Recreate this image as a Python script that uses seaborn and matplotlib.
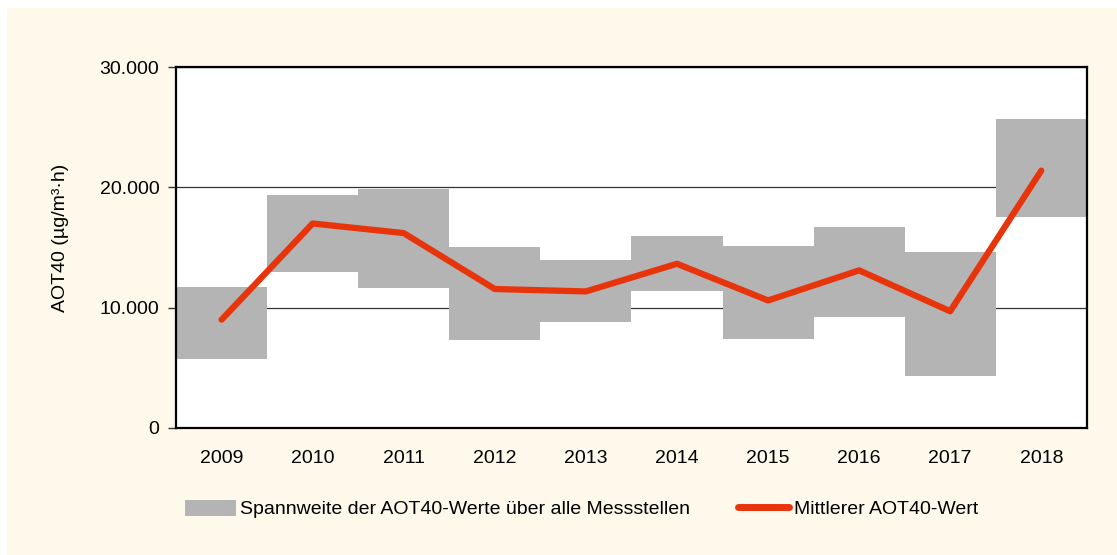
import matplotlib
matplotlib.use("Agg")
import matplotlib.pyplot as plt
import matplotlib.ticker as mticker
from matplotlib.patches import Rectangle, Patch
from matplotlib.lines import Line2D
import seaborn as sns
import pandas as pd

# AOT40 Spannweite und Mittelwert je Jahr
years = ["2009", "2010", "2011", "2012", "2013", "2014", "2015", "2016", "2017", "2018"]
aot_min = [5700, 12950, 11650, 7300, 8800, 11400, 7400, 9250, 4350, 17500]
aot_max = [11750, 19400, 19850, 15050, 13950, 15980, 15100, 16700, 14600, 25650]
aot_mean = [9000, 17000, 16200, 11550, 11350, 13650, 10600, 13100, 9700, 21400]

df = pd.DataFrame({"Jahr": years, "min": aot_min, "max": aot_max, "mittel": aot_mean})
df["spanne"] = df["max"] - df["min"]

sns.set_style("white")
plt.rcParams["font.family"] = ["Liberation Sans", "DejaVu Sans"]

cream = "#FEF9EA"
gray = "#B4B4B4"
red = "#E8340A"
fs = 14

fig = plt.figure(figsize=(11.17, 5.55), dpi=100)
fig.patch.set_facecolor("white")
fig.patches.append(Rectangle((7 / 1117, 0), 1, 1 - 8 / 555, transform=fig.transFigure,
                             facecolor=cream, edgecolor="none", zorder=-10))

ax = fig.add_axes([0.1576, 0.229, 0.8154, 0.650])
ax.set_facecolor("white")

x = range(len(years))
ax.bar(x, df["spanne"], bottom=df["min"], width=1.0, color=gray, edgecolor="none", zorder=2)
sns.lineplot(x=list(x), y=df["mittel"], ax=ax, color=red, linewidth=4.5,
             solid_capstyle="round", zorder=3)

ax.set_xlim(-0.5, len(years) - 0.5)
ax.set_ylim(0, 30000)
ax.set_xticks(list(x))
ax.set_xticklabels(years)
ax.set_yticks([0, 10000, 20000, 30000])
ax.yaxis.set_major_formatter(mticker.FuncFormatter(lambda v, p: f"{int(v):,}".replace(",", ".")))
ax.yaxis.grid(True, color="#333333", linewidth=0.9, zorder=1)
ax.set_axisbelow(True)
ax.tick_params(axis="y", which="major", direction="out", length=6, width=1, left=True,
               labelsize=fs, pad=6, color="#333333", labelcolor="black")
ax.tick_params(axis="x", length=0, labelsize=fs, pad=16, labelcolor="black")
for s in ax.spines.values():
    s.set_color("black")
    s.set_linewidth(1.6)
ax.set_xlabel("")
ax.set_ylabel("AOT40 (µg/m³·h)", fontsize=fs, color="black", va="center")
ax.yaxis.set_label_coords(-0.127, 0.528)

handles = [Patch(facecolor=gray, edgecolor="none"),
           Line2D([0], [0], color=red, linewidth=5, solid_capstyle="round")]
labels = ["Spannweite der AOT40-Werte über alle Messstellen", "Mittlerer AOT40-Wert"]
leg = fig.legend(handles, labels, loc="center", bbox_to_anchor=(0.5205, 0.083), ncol=2,
                 frameon=False, fontsize=fs, handlelength=2.6, handleheight=0.9,
                 handletextpad=0.25, columnspacing=2.45)
for t in leg.get_texts():
    t.set_color("black")

fig.savefig("out.png", dpi=100, facecolor=fig.get_facecolor())
